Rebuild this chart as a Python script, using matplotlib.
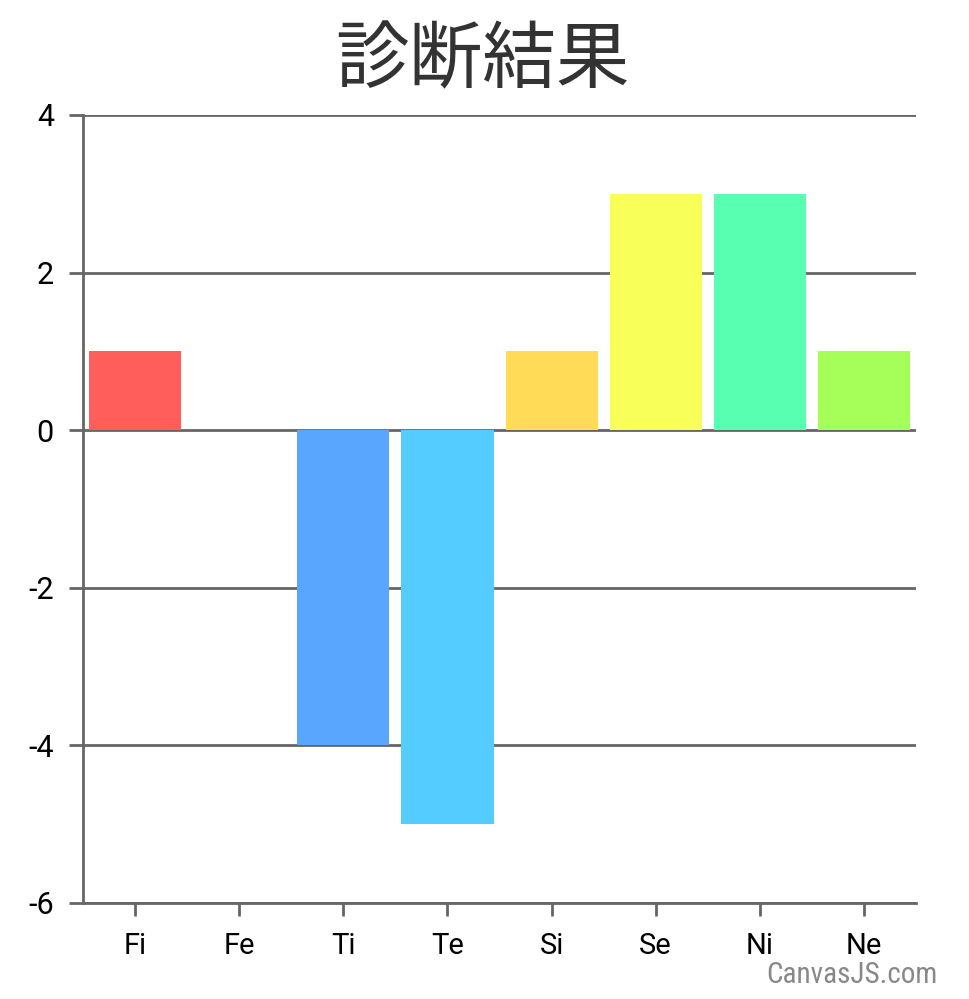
import matplotlib.pyplot as plt

plt.rcParams['font.family'] = ['Roboto', 'Noto Sans CJK JP', 'DejaVu Sans']

categories = ['Fi', 'Fe', 'Ti', 'Te', 'Si', 'Se', 'Ni', 'Ne']
values = [1, 0, -4, -5, 1, 3, 3, 1]
colors = ['#FF5E5B', '#FFA658', '#58A6FF', '#55CCFF', '#FFDB58', '#F7FF58', '#58FFB0', '#A6FF58']
y_ticks = [-6, -4, -2, 0, 2, 4]

fig = plt.figure(figsize=(9.69, 9.99), dpi=100)
ax = fig.add_axes([0.0857, 0.0961, 0.8596, 0.7888])

grid_col = '#666666'
for t in y_ticks:
    ax.axhline(t, color=grid_col, lw=2, zorder=1)

x = list(range(len(categories)))
ax.bar(x, values, width=0.885, color=colors, zorder=2)

ax.set_xlim(-0.5, len(categories) - 0.5)
ax.set_ylim(-6, 4)
ax.set_yticks(y_ticks)
ax.set_yticklabels([str(t) for t in y_ticks])
ax.set_xticks(x)
ax.set_xticklabels(categories)

for side in ['top', 'right']:
    ax.spines[side].set_visible(False)
for side in ['left', 'bottom']:
    ax.spines[side].set_color(grid_col)
    ax.spines[side].set_linewidth(2)

ax.tick_params(axis='y', length=10, width=2, color=grid_col, labelsize=22, pad=11)
ax.tick_params(axis='x', length=9, width=2, color=grid_col, labelsize=21, pad=12)

fig.text(0.498, 0.938, '診断結果', ha='center', va='center', fontsize=53,
         color='#333333', family=['Noto Sans CJK JP', 'DejaVu Sans'])
# credit text, bottom right
fig.text(0.968, 0.024, 'CanvasJS.com', ha='right', va='center', fontsize=21,
         color='#888888', family=['Roboto Condensed', 'Roboto', 'DejaVu Sans'])

fig.savefig('out.png', dpi=100)
